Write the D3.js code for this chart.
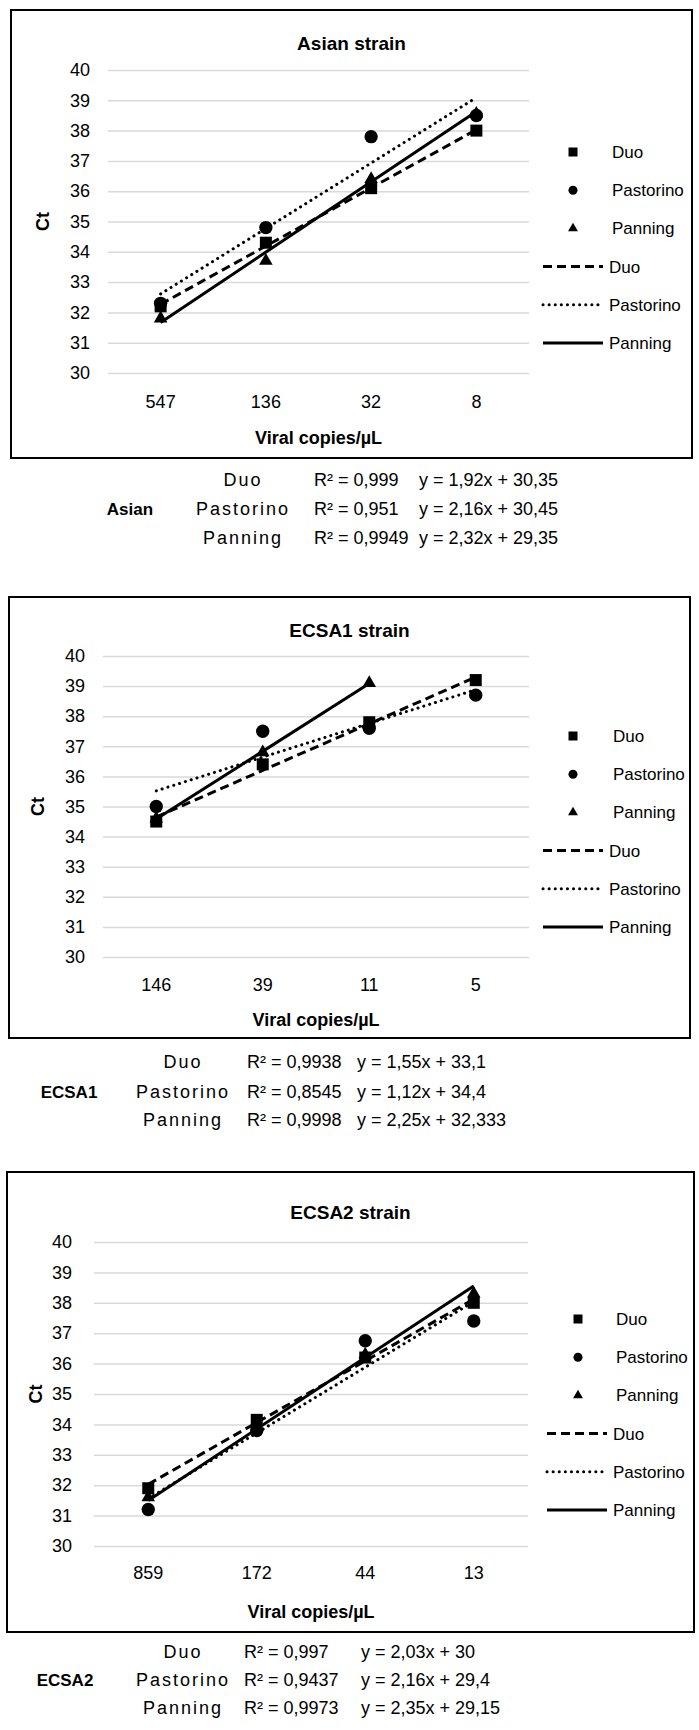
<!DOCTYPE html>
<html>
<head>
<meta charset="utf-8">
<script src="https://d3js.org/d3.v7.min.js"></script>
<style>
  body { margin: 0; background: #fff; }
  svg { display: block; font-family: "Liberation Sans", Arial, sans-serif; }
  .grid line { stroke: #d9d9d9; stroke-width: 1.5px; }
  .grid text, .xaxis text { font-size: 18px; fill: #000; }
</style>
</head>
<body>
<script>
// ---- data ----
var seriesNames = ["Duo", "Pastorino", "Panning"];
var ctTicks = [30, 31, 32, 33, 34, 35, 36, 37, 38, 39, 40];

var asianCopies = ["547", "136", "32", "8"];
var asianDuo = [32.2, 34.3, 36.1, 38.0];
var asianPastorino = [32.3, 34.8, 37.8, 38.5];
var asianPanning = [31.8, 33.7, 36.4, 38.55];
var asianSlopes = [1.92, 2.16, 2.32];
var asianIntercepts = [30.35, 30.45, 29.35];
var asianR2 = ["0,999", "0,951", "0,9949"];

var ecsa1Copies = ["146", "39", "11", "5"];
var ecsa1Duo = [34.5, 36.4, 37.8, 39.2];
var ecsa1Pastorino = [35.0, 37.5, 37.6, 38.7];
var ecsa1Panning = [34.6, 36.8, 39.1, null];
var ecsa1Slopes = [1.55, 1.12, 2.25];
var ecsa1Intercepts = [33.1, 34.4, 32.333];
var ecsa1R2 = ["0,9938", "0,8545", "0,9998"];

var ecsa2Copies = ["859", "172", "44", "13"];
var ecsa2Duo = [31.9, 34.15, 36.2, 38.0];
var ecsa2Pastorino = [31.2, 33.8, 36.75, 37.4];
var ecsa2Panning = [31.6, 33.9, 36.3, 38.3];
var ecsa2Slopes = [2.03, 2.16, 2.35];
var ecsa2Intercepts = [30, 29.4, 29.15];
var ecsa2R2 = ["0,997", "0,9437", "0,9973"];

// ---- layout of the three pasted panels ----
var panels = [
  { title: "Asian strain", strain: "Asian", copies: asianCopies,
    values: [asianDuo, asianPastorino, asianPanning],
    slopes: asianSlopes, intercepts: asianIntercepts, r2: asianR2,
    box: [11, 10, 692, 458], px: [108, 529], y40: 70, y30: 373, titleY: 43,
    tickX: 90, xLabY: 402, xTitleY: 438, ctX: 43,
    leg: { mx: 573, tx: 612, l0: 543, l1: 603, y0: 152, dy: 38.2 },
    eq: { rows: [480, 509, 538], sx: 130, nx: 243, rx: 314, ex: 419 } },
  { title: "ECSA1 strain", strain: "ECSA1", copies: ecsa1Copies,
    values: [ecsa1Duo, ecsa1Pastorino, ecsa1Panning],
    slopes: ecsa1Slopes, intercepts: ecsa1Intercepts, r2: ecsa1R2,
    box: [9, 597, 690, 1038], px: [103, 529], y40: 656, y30: 957, titleY: 630,
    tickX: 85, xLabY: 985, xTitleY: 1020, ctX: 38,
    leg: { mx: 573, tx: 613, l0: 543, l1: 603, y0: 736, dy: 38.2 },
    eq: { rows: [1062, 1092, 1120], sx: 69, nx: 183, rx: 247, ex: 357 } },
  { title: "ECSA2 strain", strain: "ECSA2", copies: ecsa2Copies,
    values: [ecsa2Duo, ecsa2Pastorino, ecsa2Panning],
    slopes: ecsa2Slopes, intercepts: ecsa2Intercepts, r2: ecsa2R2,
    box: [7, 1172, 694, 1632], px: [94, 528], y40: 1242, y30: 1546, titleY: 1212,
    tickX: 72, xLabY: 1573, xTitleY: 1612, ctX: 36,
    leg: { mx: 578, tx: 616, l0: 547, l1: 607, y0: 1319, dy: 38.2 },
    eq: { rows: [1652, 1680, 1708], sx: 65, nx: 183, rx: 244, ex: 361 } }
];

var symbolTypes = [d3.symbolSquare, d3.symbolCircle, d3.symbolTriangle];
var markSizes = [144, 140, 80];
var legSizes = [81, 64, 43];
var dashes = ["9,5", "0.1,6", null];

function comma(v) { return String(v).replace(".", ","); }

var svg = d3.select("body").append("svg")
  .attr("width", 699)
  .attr("height", 1730);

panels.forEach(function(p) {
  var g = svg.append("g");

  g.append("rect")
    .attr("x", p.box[0]).attr("y", p.box[1])
    .attr("width", p.box[2] - p.box[0]).attr("height", p.box[3] - p.box[1])
    .attr("fill", "#fff").attr("stroke", "#000").attr("stroke-width", 2);

  var x = d3.scaleBand().domain(p.copies).range(p.px);
  var y = d3.scaleLinear().domain([30, 40]).range([p.y30, p.y40]);
  var cx = function(i) { return x(p.copies[i]) + x.bandwidth() / 2; };

  // gridlines + Ct labels
  g.append("g")
    .attr("class", "grid")
    .attr("transform", "translate(" + p.px[0] + ",0)")
    .call(d3.axisLeft(y).tickValues(ctTicks).tickFormat(d3.format("d"))
      .tickSizeInner(-(p.px[1] - p.px[0])).tickSizeOuter(0)
      .tickPadding(p.px[0] - p.tickX))
    .call(function(a) { a.select(".domain").remove(); });

  // category labels
  g.append("g")
    .attr("class", "xaxis")
    .attr("transform", "translate(0," + p.xLabY + ")")
    .call(d3.axisBottom(x).tickSize(0).tickPadding(0))
    .call(function(a) {
      a.select(".domain").remove();
      a.selectAll("text").attr("dy", "0.35em");
    });

  g.append("text")
    .attr("x", (p.box[0] + p.box[2]) / 2).attr("y", p.titleY).attr("dy", "0.35em")
    .attr("text-anchor", "middle").style("font-size", "19px").style("font-weight", "bold")
    .text(p.title);

  g.append("text")
    .attr("x", (p.px[0] + p.px[1]) / 2).attr("y", p.xTitleY).attr("dy", "0.35em")
    .attr("text-anchor", "middle").style("font-size", "18px").style("font-weight", "bold")
    .text("Viral copies/\u00b5L");

  g.append("text")
    .attr("transform", "translate(" + p.ctX + "," + y(35) + ") rotate(-90)")
    .attr("dy", "0.35em").attr("text-anchor", "middle")
    .style("font-size", "18px").style("font-weight", "bold")
    .text("Ct");

  // markers (Panning drawn first, Duo on top)
  [2, 1, 0].forEach(function(s) {
    var pts = p.values[s].map(function(v, i) { return { i: i, v: v }; })
      .filter(function(d) { return d.v != null; });
    g.selectAll(".m" + s).data(pts).enter().append("path")
      .attr("class", "m" + s)
      .attr("transform", function(d) { return "translate(" + cx(d.i) + "," + y(d.v) + ")"; })
      .attr("d", d3.symbol().type(symbolTypes[s]).size(markSizes[s]))
      .attr("fill", "#000");
  });

  // linear trend lines, from the fitted equations (x = 1..n)
  [0, 1, 2].forEach(function(s) {
    var idx = p.values[s].map(function(v, i) { return v == null ? null : i + 1; })
      .filter(function(d) { return d != null; });
    var ends = [d3.min(idx), d3.max(idx)];
    var ln = d3.line()
      .x(function(d) { return cx(d - 1); })
      .y(function(d) { return y(p.slopes[s] * d + p.intercepts[s]); });
    g.append("path")
      .attr("d", ln(ends))
      .attr("fill", "none").attr("stroke", "#000").attr("stroke-width", 3)
      .attr("stroke-linecap", s == 1 ? "round" : "butt")
      .attr("stroke-dasharray", dashes[s]);
  });

  // legend
  var L = p.leg;
  seriesNames.forEach(function(name, s) {
    var yy = L.y0 + s * L.dy;
    g.append("path")
      .attr("transform", "translate(" + L.mx + "," + yy + ")")
      .attr("d", d3.symbol().type(symbolTypes[s]).size(legSizes[s]))
      .attr("fill", "#000");
    g.append("text").attr("x", L.tx).attr("y", yy).attr("dy", "0.35em")
      .style("font-size", "17px").text(name);
  });
  seriesNames.forEach(function(name, s) {
    var yy = L.y0 + (s + 3) * L.dy;
    g.append("line")
      .attr("x1", L.l0).attr("x2", L.l1).attr("y1", yy).attr("y2", yy)
      .attr("stroke", "#000").attr("stroke-width", 3)
      .attr("stroke-linecap", s == 1 ? "round" : "butt")
      .attr("stroke-dasharray", dashes[s]);
    g.append("text").attr("x", L.l1 + 6).attr("y", yy).attr("dy", "0.35em")
      .style("font-size", "17px").text(name);
  });

  // equations under the panel
  var E = p.eq;
  svg.append("text").attr("x", E.sx).attr("y", E.rows[1]).attr("dy", "0.35em")
    .attr("text-anchor", "middle").style("font-size", "17px").style("font-weight", "bold")
    .text(p.strain);
  seriesNames.forEach(function(name, s) {
    var yy = E.rows[s];
    svg.append("text").attr("x", E.nx).attr("y", yy).attr("dy", "0.35em")
      .attr("text-anchor", "middle").style("font-size", "18px").style("letter-spacing", "2px")
      .text(name);
    svg.append("text").attr("x", E.rx).attr("y", yy).attr("dy", "0.35em")
      .style("font-size", "18px").text("R\u00b2 = " + p.r2[s]);
    svg.append("text").attr("x", E.ex).attr("y", yy).attr("dy", "0.35em")
      .style("font-size", "18px")
      .text("y = " + comma(p.slopes[s]) + "x + " + comma(p.intercepts[s]));
  });
});
</script>
</body>
</html>
